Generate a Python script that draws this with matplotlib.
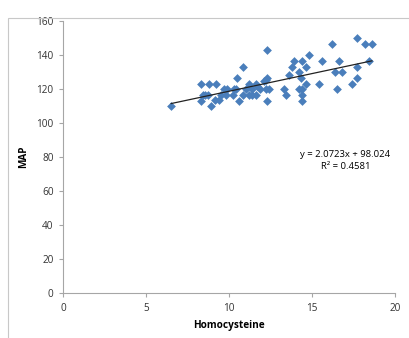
import numpy as np
import matplotlib.pyplot as plt
from matplotlib.patches import Rectangle

# Homocysteine vs MAP
homocysteine = [6.5, 8.3, 8.3, 8.4, 8.55, 8.7, 8.8, 8.9, 9.15, 9.2, 9.4, 9.5,
                9.7, 9.8, 9.85, 10.25, 10.3, 10.4, 10.45, 10.6, 10.8, 10.8,
                11.0, 11.2, 11.2, 11.4, 11.4, 11.6, 11.6, 11.65, 11.85, 12.1,
                12.2, 12.3, 12.3, 12.2, 12.4, 12.3, 13.3, 13.4, 13.6, 13.8,
                13.9, 14.2, 14.2, 14.3, 14.4, 14.4, 14.4, 14.4, 14.6, 14.65,
                14.8, 15.4, 15.6, 16.2, 16.4, 16.5, 16.6, 16.8, 17.4, 17.7,
                17.7, 17.7, 18.2, 18.4, 18.6]
map_values = [110, 123, 113, 116.5, 116.5, 116.5, 123, 110, 113.5, 123, 113.5, 116.5,
              120, 116.5, 120, 116.5, 120, 120, 126.5, 113, 133, 116.5,
              120, 123, 116.5, 116.5, 120, 123, 116.5, 122, 120, 124.5,
              125.5, 143, 126.5, 120, 120, 113, 120, 116.5, 128.5, 133,
              136.5, 130, 120, 126.5, 136.5, 120, 116.5, 113, 133, 123,
              140, 123, 136.5, 146.5, 130, 120, 136.5, 130, 123, 150,
              133, 126.5, 146.5, 136.5, 146.5]

# linear trendline as reported in the chart
slope = 2.0723
intercept = 98.024
r_squared = 0.4581

fig = plt.figure(figsize=(4.09, 3.38), dpi=100)
fig.patches.append(Rectangle((8 / 409, -0.1), 1.2, 1.1 - 9 / 338 - 0.027,
                             transform=fig.transFigure, fill=False,
                             edgecolor="#c8c8c8", linewidth=0.8))
ax = fig.add_axes([0.155, 0.132, 0.811, 0.806])

ax.scatter(homocysteine, map_values, marker="D", s=20, color="#4a7ebb",
           linewidths=0, zorder=3)

xs = np.array([min(homocysteine), max(homocysteine)])
ax.plot(xs, slope * xs + intercept, color="#222222", linewidth=0.9, zorder=4)

ax.text(17.0, 81.5, f"y = {slope}x + {intercept}", ha="center", va="center",
        fontsize=6.8, family="Open Sans")
ax.text(17.0, 74.3, f"R\u00b2 = {r_squared}", ha="center", va="center",
        fontsize=6.8, family="Open Sans")

ax.set_xlim(0, 20)
ax.set_ylim(0, 160)
ax.set_xticks(range(0, 21, 5))
ax.set_yticks(range(0, 161, 20))
for side in ("top", "right"):
    ax.spines[side].set_visible(False)
for side in ("left", "bottom"):
    ax.spines[side].set_color("#a6a6a6")
    ax.spines[side].set_linewidth(0.8)
ax.tick_params(length=3, width=0.8, color="#a6a6a6", labelsize=7.2,
               labelcolor="#333333", pad=4)
for lbl in ax.get_xticklabels() + ax.get_yticklabels():
    lbl.set_family("Open Sans")

ax.set_xlabel("Homocysteine", fontsize=7.2, fontweight="bold",
              family="Open Sans", labelpad=4)
ax.set_ylabel("MAP", fontsize=7.2, fontweight="bold", family="Open Sans",
              labelpad=5)

fig.savefig("out.png", dpi=100)
